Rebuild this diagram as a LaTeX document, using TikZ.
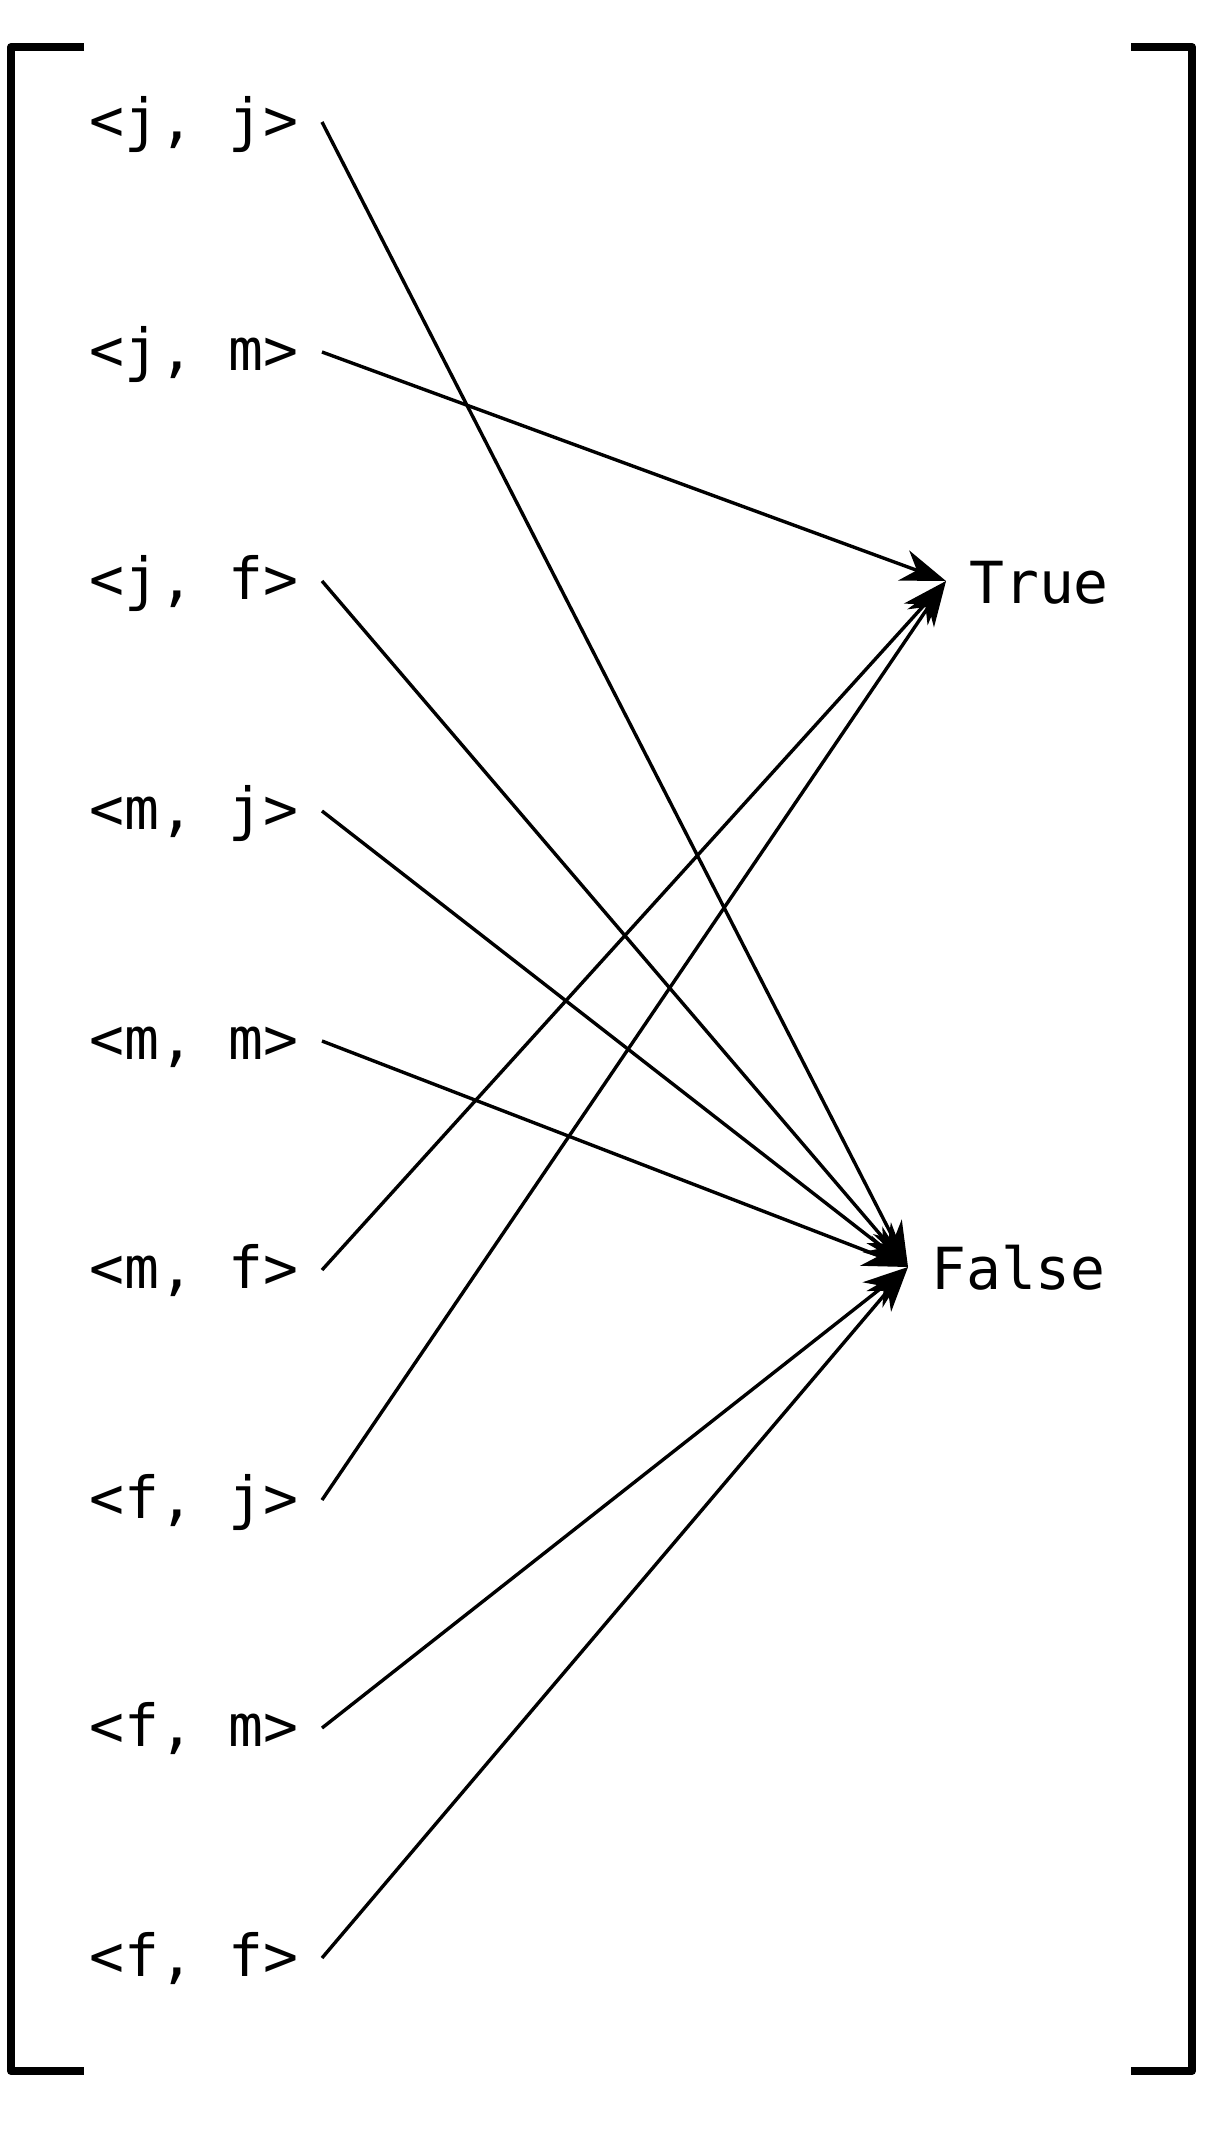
\documentclass[tikz,border=0pt]{standalone}
\usepackage{fontspec}
\newfontfamily\monof{DejaVu Sans Mono}
\usetikzlibrary{arrows.meta}
\begin{document}
\begin{tikzpicture}[x=1pt,y=-1pt,
  lbl/.style={font=\monof\fontsize{58}{70}\selectfont, inner xsep=23pt, inner ysep=0pt, text height=36pt, text depth=0pt},
  res/.style={font=\monof\fontsize{58}{70}\selectfont, inner xsep=23pt, inner ysep=0pt, text height=44pt, text depth=0pt},
  conn/.style={line width=3.4pt, -{Stealth[length=45pt,width=32pt,inset=14pt]}},
  brk/.style={line width=8pt, line join=round}]
\useasboundingbox (0,0) rectangle (1205,2130);
\draw[brk] (84,47) -- (11,47) -- (11,2071) -- (84,2071);
\draw[brk] (1131,47) -- (1192,47) -- (1192,2071) -- (1131,2071);
\node[lbl, anchor=east] (jj) at (322,122) {<j, j>};
\node[lbl, anchor=east] (jm) at (322,352) {<j, m>};
\node[lbl, anchor=east] (jf) at (322,581) {<j, f>};
\node[lbl, anchor=east] (mj) at (322,811) {<m, j>};
\node[lbl, anchor=east] (mm) at (322,1041) {<m, m>};
\node[lbl, anchor=east] (mf) at (322,1270) {<m, f>};
\node[lbl, anchor=east] (fj) at (322,1500) {<f, j>};
\node[lbl, anchor=east] (fm) at (322,1728) {<f, m>};
\node[lbl, anchor=east] (ff) at (322,1958) {<f, f>};
\node[res, anchor=west] (T) at (946,581) {True};
\node[res, anchor=west] (F) at (908,1267) {False};
\draw[conn] (jj.east) -- (F.west);
\draw[conn] (jm.east) -- (T.west);
\draw[conn] (jf.east) -- (F.west);
\draw[conn] (mj.east) -- (F.west);
\draw[conn] (mm.east) -- (F.west);
\draw[conn] (mf.east) -- (T.west);
\draw[conn] (fj.east) -- (T.west);
\draw[conn] (fm.east) -- (F.west);
\draw[conn] (ff.east) -- (F.west);
\end{tikzpicture}
\end{document}
